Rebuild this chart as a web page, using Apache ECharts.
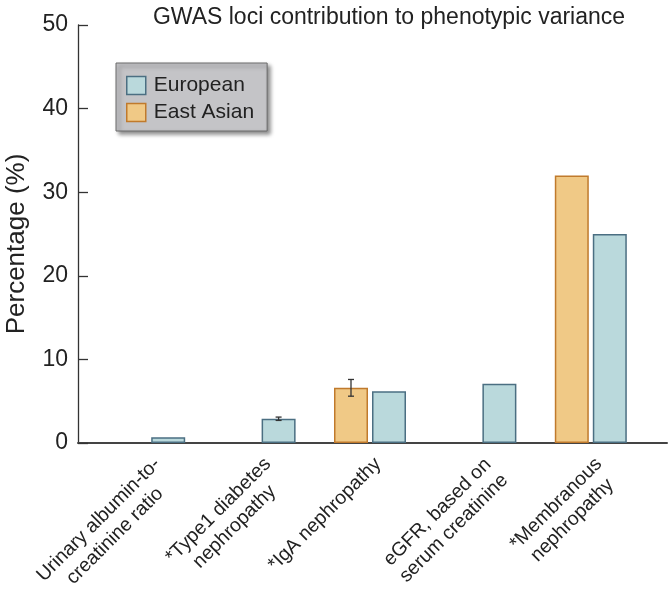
<!DOCTYPE html>
<html><head><meta charset="utf-8">
<script src="https://cdn.jsdelivr.net/npm/echarts@6/dist/echarts.min.js"></script>
<style>html,body{margin:0;padding:0;background:#fff}#c{width:671px;height:596px}</style>
</head><body><div id="c"></div>
<script>
const categories = ['Urinary albumin-to-\ncreatinine ratio', '*Type1 diabetes\nnephropathy', '*IgA nephropathy', 'eGFR, based on\nserum creatinine', '*Membranous\nnephropathy'];
const eastAsian = [null, null, 6.6, null, 32.0];
const european = [0.7, 2.9, 6.2, 7.1, 25.0];
const eastAsianErr = [null, null, 1.0, null, null];
const europeanErr = [null, 0.2, null, null, null];
const yTicks = [0, 10, 20, 30, 40, 50];

const FONT = 'Liberation Sans, Arial, sans-serif';
const BW = 34, GAP = 4;
const chart = echarts.init(document.getElementById('c'), null, {renderer: 'canvas'});

function errSeries(name, errs, vals, offset) {
  return {
    type: 'custom', name: name + ' err', xAxisIndex: 1, yAxisIndex: 1, silent: true, z: 5,
    data: errs.map((e, i) => [i, vals[i], e]).filter(d => d[2] != null),
    renderItem: function (params, api) {
      const i = api.value(0), v = api.value(1), e = api.value(2);
      const top = api.coord([i, v + e]);
      const bot = api.coord([i, v - e]);
      const x = top[0] + offset;
      const cap = 3;
      const st = {stroke: '#333', lineWidth: 1.3};
      return {type: 'group', children: [
        {type: 'line', shape: {x1: x, y1: top[1], x2: x, y2: bot[1]}, style: st},
        {type: 'line', shape: {x1: x - cap, y1: top[1], x2: x + cap, y2: top[1]}, style: st},
        {type: 'line', shape: {x1: x - cap, y1: bot[1], x2: x + cap, y2: bot[1]}, style: st}
      ]};
    }
  };
}

const euStyle = {color: '#bad9dc', borderColor: '#4b6f82', borderWidth: 1.5};
const eaStyle = {color: '#f0c986', borderColor: '#c07a2c', borderWidth: 1.5};

chart.setOption({
  animation: false,
  title: {text: 'GWAS loci contribution to phenotypic variance', left: 384, textAlign: 'center', top: 1,
    textStyle: {fontFamily: FONT, fontSize: 23, fontWeight: 'normal', color: '#222'}},
  legend: {
    left: 116, top: 63, orient: 'vertical', padding: [12, 13, 8, 10], itemGap: 6,
    itemWidth: 19, itemHeight: 18, backgroundColor: '#c4c4c7', borderColor: '#6a6a6a', borderWidth: 1,
    shadowColor: 'rgba(0,0,0,0.45)', shadowBlur: 4, shadowOffsetX: 3, shadowOffsetY: 3,
    textStyle: {fontFamily: FONT, fontSize: 21, color: '#222', padding: [0, 0, 0, 3]},
    data: [
      {name: 'European', icon: 'rect', itemStyle: euStyle},
      {name: 'East Asian', icon: 'rect', itemStyle: eaStyle}
    ]
  },
  grid: [
    {left: 78, right: 4, top: 25, height: 418, outerBoundsMode: 'none', containLabel: false},
    {left: 94, width: 552, top: 25, height: 418, outerBoundsMode: 'none', containLabel: false}
  ],
  xAxis: [
    {type: 'category', gridIndex: 0, data: [''], axisLine: {lineStyle: {color: '#444', width: 2}},
      axisTick: {show: false}, axisLabel: {show: false}},
    {type: 'category', gridIndex: 1, data: categories, axisLine: {show: false}, axisTick: {show: false},
      axisLabel: {rotate: 45, interval: 0, margin: 10, color: '#222', verticalAlign: 'top',
        formatter: v => v.split('\n').map(s => '{c|' + s + '}').join('\n'),
        rich: {c: {align: 'center', fontFamily: FONT, fontSize: 19.5, lineHeight: 23, color: '#222'}}}}
  ],
  yAxis: [
    {type: 'value', gridIndex: 0, min: yTicks[0], max: yTicks[yTicks.length - 1], interval: 10,
      name: 'Percentage (%)', nameLocation: 'middle', nameGap: 48,
      nameTextStyle: {fontFamily: FONT, fontSize: 26, color: '#222', padding: [0, 0, 0, -20]},
      axisLine: {show: true, lineStyle: {color: '#333', width: 1.3}},
      axisTick: {show: true, inside: true, length: 10, lineStyle: {color: '#333', width: 1.3}},
      splitLine: {show: false},
      axisLabel: {fontFamily: FONT, fontSize: 23, color: '#222', margin: 10}},
    {type: 'value', gridIndex: 1, min: 0, max: 50, show: false, splitLine: {show: false}}
  ],
  series: [
    {type: 'bar', name: 'East Asian', xAxisIndex: 1, yAxisIndex: 1, data: eastAsian, barWidth: BW,
      barGap: (GAP / BW * 100) + '%', itemStyle: eaStyle},
    {type: 'bar', name: 'European', xAxisIndex: 1, yAxisIndex: 1, data: european, barWidth: BW,
      barGap: (GAP / BW * 100) + '%', itemStyle: euStyle},
    errSeries('East Asian', eastAsianErr, eastAsian, -(BW + GAP) / 2),
    errSeries('European', europeanErr, european, (BW + GAP) / 2)
  ]
});
</script></body></html>
